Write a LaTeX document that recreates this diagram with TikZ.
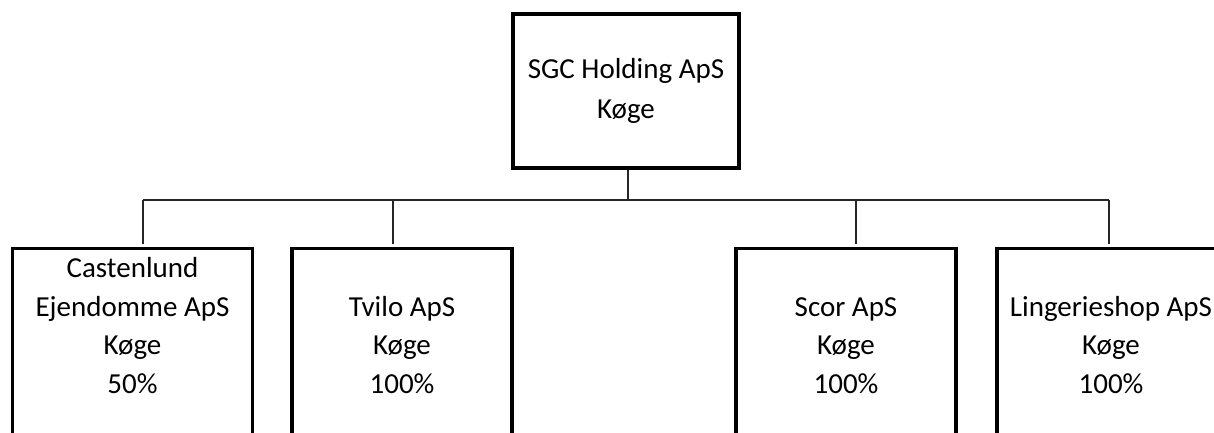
\documentclass[tikz,border=0pt]{standalone}
\usepackage{fontspec}
\setmainfont{Carlito}
\usepackage{tikz}
\usetikzlibrary{positioning}

\begin{document}
\begin{tikzpicture}[
  x=1pt, y=-1pt,
  font=\fontsize{29}{38.5}\selectfont,
  box/.style={draw=black, line width=3.4pt, align=center, inner xsep=0pt},
  topbox/.style={box, minimum width=226pt, minimum height=154pt,
    font=\fontsize{29}{40}\selectfont},
  sub/.style={box, anchor=north, inner ysep=9pt, text height=135.5pt, text depth=200pt},
  link/.style={draw=black!85, line width=1.7pt}
]
\useasboundingbox (0,0) rectangle (1214,432);

% ------------------------------------------------------------
% Top: holding company
% ------------------------------------------------------------
\node[topbox] (sgc) at (626,91) {SGC Holding ApS\\Køge};

% ------------------------------------------------------------
% Subsidiaries
% ------------------------------------------------------------
\node[sub, minimum width=240pt] (cast)  at (132.5,247) {Castenlund\\Ejendomme ApS\\Køge\\50\%};
\node[sub, minimum width=220pt] (tvilo) at (402,247)   {Tvilo ApS\\Køge\\100\%};
\node[sub, minimum width=220pt] (scor)  at (846,247)   {Scor ApS\\Køge\\100\%};
\node[sub, minimum width=228pt] (ling)  at (1111,247)  {Lingerieshop ApS\\Køge\\100\%};

% bus line and drops
\coordinate (hub) at (628,200);
\coordinate (b1) at (143,200);
\coordinate (b2) at (393,200);
\coordinate (b3) at (856,200);
\coordinate (b4) at (1109,200);

\draw[link] (sgc.south -| hub) -- (hub);
\draw[link] (b1) -- (b4);
\draw[link, shorten >=3pt] (b1) -- (b1 |- cast.north);
\draw[link, shorten >=3pt] (b2) -- (b2 |- tvilo.north);
\draw[link, shorten >=3pt] (b3) -- (b3 |- scor.north);
\draw[link, shorten >=3pt] (b4) -- (b4 |- ling.north);

\end{tikzpicture}
\end{document}
